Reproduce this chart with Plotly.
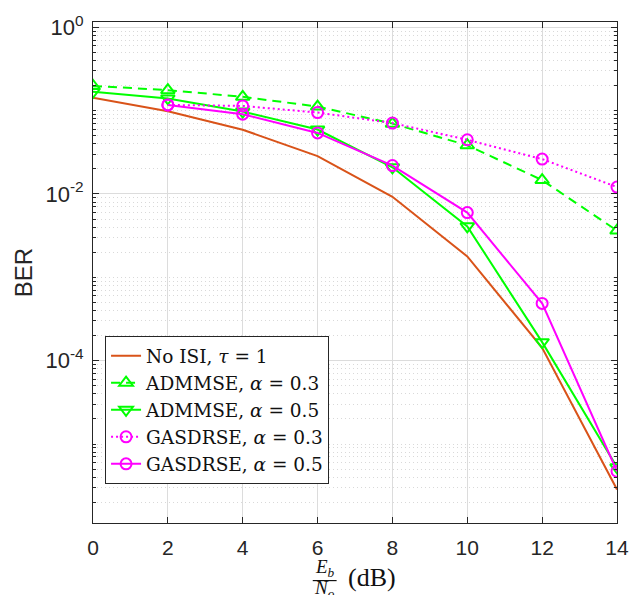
import plotly.graph_objects as go

# ---- data ----
snr_full = [0, 2, 4, 6, 8, 10, 12, 14]
snr_gas = [2, 4, 6, 8, 10, 12, 14]
ber_no_isi = [0.1426, 0.0985, 0.059, 0.0284, 0.00925, 0.00178, 1.43e-4, 2.85e-6]
ber_admmse_03 = [0.198, 0.176, 0.1465, 0.1117, 0.0698, 0.0384, 0.01466, 0.00364]
ber_admmse_05 = [0.168, 0.14, 0.0975, 0.0593, 0.0209, 0.00409, 1.67e-4, 5.26e-6]
ber_gas_03 = [0.117, 0.1138, 0.0948, 0.0709, 0.0447, 0.0262, 0.0121]
ber_gas_05 = [0.117, 0.0906, 0.054, 0.0219, 0.00598, 4.87e-4, 4.72e-6]

x_ticks = [0, 2, 4, 6, 8, 10, 12, 14]
y_ticks = [1e-4, 1e-2, 1]
y_ticktext = ["10<sup>-4</sup>", "10<sup>-2</sup>", "10<sup>0</sup>"]
y_minor = [m * 10.0 ** e for e in range(-6, 1) for m in range(1, 10)
           if not (m == 1 and e in (-4, -2, 0))]

legend_names = [
    "No ISI, <i>τ</i> = 1",
    "ADMMSE, <i>α</i> = 0.3",
    "ADMMSE, <i>α</i> = 0.5",
    "GASDRSE, <i>α</i> = 0.3",
    "GASDRSE, <i>α</i> = 0.5",
]

ORANGE = "#D95319"
GREEN = "#00FF00"
MAGENTA = "#FF00FF"

fig = go.Figure()
fig.add_trace(go.Scatter(x=snr_full, y=ber_no_isi, mode="lines", name=legend_names[0],
                         line=dict(color=ORANGE, width=2)))
fig.add_trace(go.Scatter(x=snr_full, y=ber_admmse_03, mode="lines+markers", name=legend_names[1],
                         line=dict(color=GREEN, width=2, dash="9px,6px"),
                         marker=dict(symbol="triangle-up-open", size=12, color=GREEN,
                                     line=dict(width=2, color=GREEN))))
fig.add_trace(go.Scatter(x=snr_full, y=ber_admmse_05, mode="lines+markers", name=legend_names[2],
                         line=dict(color=GREEN, width=2),
                         marker=dict(symbol="triangle-down-open", size=12, color=GREEN,
                                     line=dict(width=2, color=GREEN))))
fig.add_trace(go.Scatter(x=snr_gas, y=ber_gas_03, mode="lines+markers", name=legend_names[3],
                         line=dict(color=MAGENTA, width=2, dash="2px,3px"),
                         marker=dict(symbol="circle-open", size=11, color=MAGENTA,
                                     line=dict(width=2, color=MAGENTA))))
fig.add_trace(go.Scatter(x=snr_gas, y=ber_gas_05, mode="lines+markers", name=legend_names[4],
                         line=dict(color=MAGENTA, width=2),
                         marker=dict(symbol="circle-open", size=11, color=MAGENTA,
                                     line=dict(width=2, color=MAGENTA))))

AX = "#262626"
serif_legend = "DejaVu Serif, serif"
fig.update_layout(
    width=641, height=595,
    margin=dict(l=93, r=21, t=14, b=72),
    paper_bgcolor="white", plot_bgcolor="white",
    font=dict(family="Liberation Sans, Arial, sans-serif", size=21, color=AX),
    showlegend=True,
    legend=dict(x=0.023, y=0.373, xanchor="left", yanchor="top",
                bgcolor="white", bordercolor=AX, borderwidth=1,
                font=dict(family=serif_legend, size=18.5, color="#111"),
                tracegroupgap=0, itemwidth=30),
    xaxis=dict(range=[0, 14], tickmode="array", tickvals=x_ticks,
               showline=True, linecolor=AX, linewidth=1, mirror="ticks",
               ticks="inside", ticklen=6, tickcolor=AX, ticklabelstandoff=6,
               showgrid=True, gridcolor="#dcdcdc", gridwidth=1, zeroline=False,
               tickfont=dict(size=21)),
    yaxis=dict(type="log", range=[-5.947, 0.063], tickmode="array",
               tickvals=y_ticks, ticktext=y_ticktext,
               showline=True, linecolor=AX, linewidth=1, mirror="ticks",
               ticks="inside", ticklen=6, tickcolor=AX, ticklabelstandoff=4,
               showgrid=True, gridcolor="#dcdcdc", gridwidth=1, zeroline=False,
               tickfont=dict(size=22),
               title=dict(text="BER", font=dict(size=24), standoff=6),
               minor=dict(tickmode="array", tickvals=y_minor, ticks="inside", ticklen=3,
                          tickcolor=AX, showgrid=True, gridcolor="#d9d9d9",
                          griddash="1px,3px", gridwidth=1)),
)

# x-axis label as stacked fraction  Eb/No (dB)
serif = "Liberation Serif, Times New Roman, serif"
fig.add_annotation(xref="paper", yref="paper", x=(326 - 93) / 527, y=(523 - 569) / 509,
                   text="<i>E<sub>b</sub></i>", showarrow=False,
                   font=dict(family=serif, size=19, color="#111"), xanchor="center", yanchor="middle")
fig.add_annotation(xref="paper", yref="paper", x=(326 - 93) / 527, y=(523 - 590) / 509,
                   text="<i>N<sub>o</sub></i>", showarrow=False,
                   font=dict(family=serif, size=19, color="#111"), xanchor="center", yanchor="middle")
fig.add_shape(type="line", xref="paper", yref="paper",
              x0=(314 - 93) / 527, x1=(338 - 93) / 527,
              y0=(523 - 581.5) / 509, y1=(523 - 581.5) / 509,
              line=dict(color="#111", width=1.2))
fig.add_annotation(xref="paper", yref="paper", x=(347 - 93) / 527, y=(523 - 578) / 509,
                   text="(dB)", showarrow=False,
                   font=dict(family=serif, size=26, color="#111"), xanchor="left", yanchor="middle")

fig.write_html("out.html")
